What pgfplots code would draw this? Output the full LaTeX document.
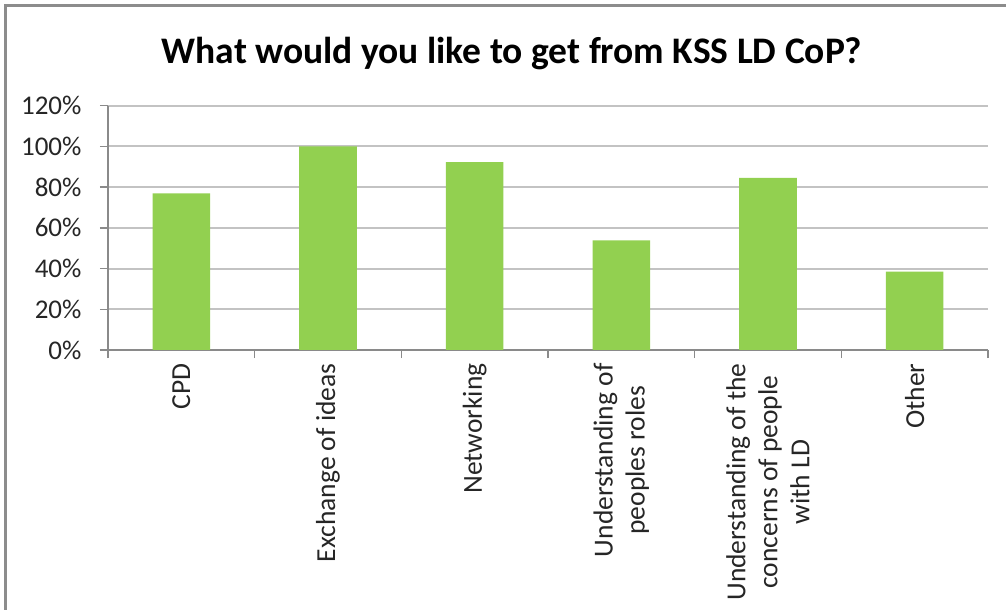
\documentclass[border=0pt]{standalone}
\usepackage{pgfplots}
\pgfplotsset{compat=1.18}
\usepackage{fontspec}
\setmainfont{Carlito}
\definecolor{bargreen}{HTML}{92D050}
\definecolor{gridgray}{HTML}{C3C3C3}
\definecolor{axgray}{HTML}{8A8A8A}
\definecolor{framegray}{HTML}{8C8C8C}
\begin{document}
\begin{tikzpicture}[x=1pt,y=1pt]
\useasboundingbox (0,0) rectangle (1006,610);
\fill[white] (0,0) rectangle (1006,610);
\draw[framegray, line width=3pt] (5.5,0) -- (5.5,604.5) -- (1006,604.5);
\node[font=\fontsize{37.5}{40}\selectfont\bfseries] at (512,556) {What would you like to get from KSS LD CoP?};
\begin{axis}[
  at={(108pt,260pt)}, anchor=south west,
  scale only axis, width=880pt, height=244.3pt,
  xmin=-0.5, xmax=5.5, ymin=0, ymax=120,
  axis x line*=bottom, axis y line*=left,
  ybar, bar width=57.6pt,
  xtick={0,1,2,3,4,5},
  xticklabels={CPD, Exchange of ideas, Networking, Understanding of\\peoples roles, Understanding of the\\concerns of people\\with LD, Other},
  major x tick style={draw=none},
  minor xtick={-0.5,0.5,1.5,2.5,3.5,4.5,5.5},
  minor tick length=8pt,
  major tick length=8pt,
  tick align=outside,
  ytick={0,20,40,60,80,100,120},
  yticklabels={0\%,20\%,40\%,60\%,80\%,100\%,120\%},
  ymajorgrids,
  grid style={gridgray, line width=2pt},
  axis line style={axgray, line width=2pt},
  tick style={axgray, line width=1.5pt},
  xticklabel shift=2pt,
  xticklabel style={rotate=90, anchor=east, align=center, font=\fontsize{27.5}{32}\selectfont, text=black!85},
  yticklabel style={font=\fontsize{27}{35}\selectfont, xshift=-15pt, text=black!85},
]
\addplot[fill=bargreen, draw=none] coordinates {(0,76.9) (1,100) (2,92.3) (3,53.8) (4,84.6) (5,38.5)};
\end{axis}
\end{tikzpicture}
\end{document}
